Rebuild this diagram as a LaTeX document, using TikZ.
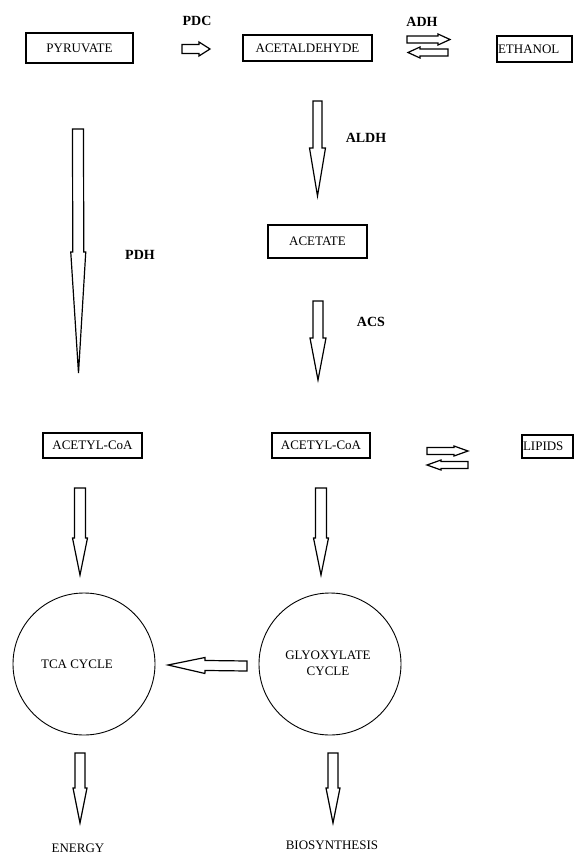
\documentclass[tikz,border=0pt]{standalone}
\usepackage{fontspec}
\setmainfont{Liberation Serif}
\usetikzlibrary{calc}
\tikzset{
  boxnode/.style={draw, line width=1.2pt, inner sep=0pt, font=\fontsize{13}{14}\selectfont},
  cyclenode/.style={draw, circle, line width=0.9pt, minimum size=142pt, inner sep=0pt, align=center},
  enzlabel/.style={font=\fontsize{14}{16}\selectfont\bfseries, inner sep=0pt},
  plainlabel/.style={font=\fontsize{13}{14}\selectfont, inner sep=0pt},
  blockline/.style={draw, line width=1.2pt, line join=miter, fill=white}
}
% block arrow from #1 to #2; #3 shaft half width, #4 head half width, #5 head length
\newcommand\blockarr[5]{%
  \coordinate (hb) at ($(#2)!#5!(#1)$);
  \path[blockline] ($(#1)!#3!90:(#2)$) -- ($(hb)!#3!-90:(#1)$) -- ($(hb)!#4!-90:(#1)$) -- (#2)
    -- ($(hb)!#4!90:(#1)$) -- ($(hb)!#3!90:(#1)$) -- ($(#1)!#3!-90:(#2)$) -- cycle;
}
\begin{document}
\begin{tikzpicture}[x=1pt, y=-1pt]
\useasboundingbox (0,0) rectangle (574,855);

% boxes
\node[boxnode, minimum width=107pt, minimum height=30pt] (pyr) at (79.5,48) {PYRUVATE};
\node[boxnode, minimum width=129pt, minimum height=26pt] (acd) at (307.5,48) {ACETALDEHYDE};
\node[boxnode, minimum width=75pt, minimum height=26pt, text width=73pt, align=left, inner xsep=1pt] (eth) at (534.5,49) {ETHANOL};
\node[boxnode, minimum width=99pt, minimum height=33pt] (ace) at (317.5,241.5) {ACETATE};
\node[boxnode, minimum width=99pt, minimum height=25pt] (acl) at (92.5,445.5) {ACETYL-CoA};
\node[boxnode, minimum width=98pt, minimum height=25pt] (acr) at (321,445.5) {ACETYL-CoA};
\node[boxnode, minimum width=51pt, minimum height=23pt, text width=49pt, align=left, inner xsep=1pt] (lip) at (547.5,446.5) {LIPIDS};

% cycles
\node[cyclenode] (tca) at (84,664) {};
\node[plainlabel] (tcat) at (77,664) {TCA CYCLE};
\node[cyclenode] (gly) at (330,664) {};
\node[plainlabel, align=center, font=\fontsize{13}{16}\selectfont] (glyt) at (328,663) {GLYOXYLATE\\CYCLE};

% end labels
\node[plainlabel] (energy) at (78,848) {ENERGY};
\node[plainlabel] (bio) at (332,845) {BIOSYNTHESIS};

% enzyme labels
\node[enzlabel] (pdc) at (197,21) {PDC};
\node[enzlabel] (adh) at (422,22) {ADH};
\node[enzlabel] (aldh) at (366,138) {ALDH};
\node[enzlabel] (pdh) at (140,255) {PDH};
\node[enzlabel] (acs) at (371,322) {ACS};

% arrow end points
\coordinate (pdcS) at (182,49);  \coordinate (pdcE) at (210,49);
\coordinate (adhS) at (407,39.5); \coordinate (adhE) at (450,39.5);
\coordinate (adhS2) at (448,52.5); \coordinate (adhE2) at (408,52.5);
\coordinate (aldhS) at (317.5,101); \coordinate (aldhE) at (317.5,196);
\coordinate (pdhS) at (78,129); \coordinate (pdhE) at (78.5,373);
\coordinate (acsS) at (318,301); \coordinate (acsE) at (318,380);
\coordinate (l1S) at (80,488); \coordinate (l1E) at (80,575);
\coordinate (r1S) at (321,488); \coordinate (r1E) at (321,575);
\coordinate (lipS) at (427,451); \coordinate (lipE) at (468,451);
\coordinate (lipS2) at (468,465); \coordinate (lipE2) at (427,465);
\coordinate (hS) at (247,666); \coordinate (hE) at (168,665);
\coordinate (l2S) at (80,753); \coordinate (l2E) at (80,823);
\coordinate (r2S) at (333,753); \coordinate (r2E) at (333,823);

\blockarr{pdcS}{pdcE}{4.5pt}{7pt}{11pt}
\blockarr{adhS}{adhE}{3.5pt}{5.5pt}{12pt}
\blockarr{adhS2}{adhE2}{3.5pt}{5.5pt}{12pt}
\blockarr{aldhS}{aldhE}{4.5pt}{8pt}{48pt}
\blockarr{pdhS}{pdhE}{5.5pt}{7.5pt}{121pt}
\blockarr{acsS}{acsE}{5pt}{8pt}{42pt}
\blockarr{l1S}{l1E}{5.5pt}{7.5pt}{37pt}
\blockarr{r1S}{r1E}{5.5pt}{7.5pt}{37pt}
\blockarr{lipS}{lipE}{3.5pt}{5pt}{14pt}
\blockarr{lipS2}{lipE2}{3.5pt}{5pt}{14pt}
\blockarr{hS}{hE}{5pt}{8pt}{37pt}
\blockarr{l2S}{l2E}{5pt}{7pt}{35pt}
\blockarr{r2S}{r2E}{5pt}{7pt}{35pt}
\end{tikzpicture}
\end{document}
